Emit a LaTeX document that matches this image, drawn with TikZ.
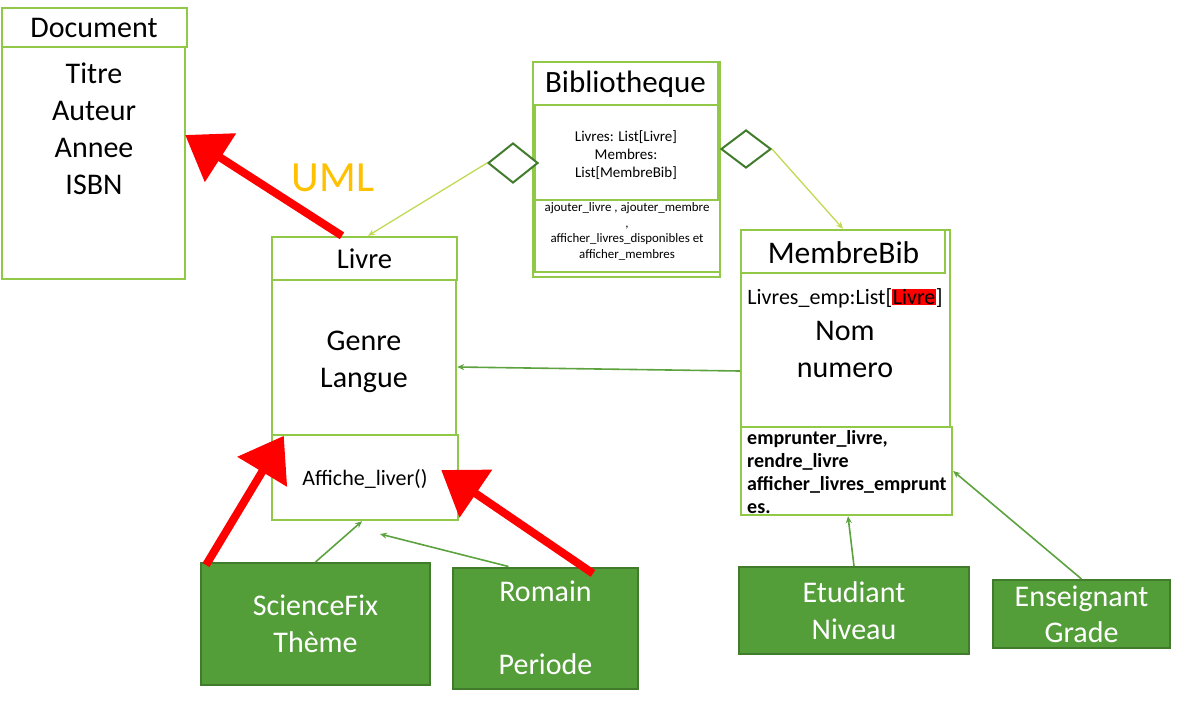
\documentclass[tikz,border=0pt]{standalone}
\usepackage{fontspec}
\setmainfont{Carlito}
\usetikzlibrary{arrows.meta,shapes.geometric}
\definecolor{boxline}{RGB}{146,200,72}
\definecolor{boxfill}{RGB}{84,158,58}
\definecolor{boxdark}{RGB}{64,124,44}
\definecolor{linkgreen}{RGB}{92,162,62}
\definecolor{agglink}{RGB}{192,218,84}
\definecolor{umlorange}{RGB}{255,192,0}
\begin{document}
\begin{tikzpicture}[x=1pt,y=-1pt]
\tikzstyle{cls}= [rectangle,draw=boxline,line width=2.4pt,inner sep=0pt]
\tikzstyle{sub}= [rectangle,draw=boxdark,line width=2pt,fill=boxfill,inner sep=0pt,text=white,align=center,font=\fontsize{30}{36.5}\selectfont]
\tikzstyle{big}= [align=center,font=\fontsize{30}{37}\selectfont]
\tikzstyle{agg}= [diamond,draw=boxdark,line width=2pt,inner sep=0pt,fill=white]
\tikzstyle{inh}= [-{Triangle[length=42pt,width=56pt]},line width=8pt,red]
\tikzstyle{dep}= [-{Stealth[length=7pt,width=6pt]},line width=1.6pt,linkgreen]
\tikzstyle{has}= [-{Stealth[length=7pt,width=6pt]},line width=1.3pt,agglink]

\useasboundingbox (0,0) rectangle (1180,702);

\path
	(94.5,27.5)  node[cls,minimum width=185pt,minimum height=39pt] (doc-hd) {}
	(93.5,163)   node[cls,minimum width=183pt,minimum height=232pt] (doc-body) {}
	(626.5,169.5) node[cls,minimum width=187pt,minimum height=215pt] (bib-frame) {}
	(625.5,83.5) node[cls,minimum width=185pt,minimum height=43pt] (bib-hd) {}
	(626.5,152.5) node[cls,minimum width=183pt,minimum height=95pt] (bib-body) {}
	(627.5,236)  node[cls,minimum width=185pt,minimum height=72pt] (bib-op) {}
	(364.5,258.5) node[cls,minimum width=185pt,minimum height=43pt] (livre-hd) {}
	(364,357.5)  node[cls,minimum width=184pt,minimum height=155pt] (livre-body) {}
	(365,477.5)  node[cls,minimum width=186pt,minimum height=85pt] (livre-op) {}
	(845.5,328.5) node[cls,minimum width=209pt,minimum height=197pt] (mb-frame) {}
	(843,251.5)  node[cls,minimum width=204pt,minimum height=43pt] (mb-hd) {}
	(846.5,471)  node[cls,minimum width=211pt,minimum height=88pt] (mb-op) {}
;
\path
	(94,28)     node[big] (doc-name) {Document}
	(94,128.5)  node[big] (doc-attr) {Titre\\Auteur\\Annee\\ISBN}
	(625.5,84)  node[big,font=\fontsize{31}{37}\selectfont] (bib-name) {Bibliotheque}
	(626,155)   node[align=center,font=\fontsize{15}{18}\selectfont] (bib-attr) {Livres: List[Livre]\\Membres:\\List[MembreBib]}
	(627,231.5) node[align=center,font=\fontsize{12.9}{15.7}\selectfont] (bib-meth) {ajouter\_livre , ajouter\_membre\\,\\afficher\_livres\_disponibles et\\afficher\_membres}
	(364.5,259) node[big,font=\fontsize{28.6}{37}\selectfont] (livre-name) {Livre}
	(364,361.5) node[big] (livre-attr) {Genre\\Langue}
	(365,479)   node[font=\fontsize{22}{26}\selectfont] (livre-meth) {Affiche\_liver()}
	(843.5,253) node[big,font=\fontsize{31.5}{37}\selectfont] (mb-name) {MembreBib}
	(845,298)   node[font=\fontsize{22}{26}\selectfont,inner sep=0pt] (mb-attr1) {Livres\_emp:List[{\setlength{\fboxsep}{0.5pt}\colorbox{red}{Livre}}]}
	(845,349.5) node[big] (mb-attr2) {Nom\\numero}
	(747,472)   node[anchor=west,inner sep=0pt,align=left,font=\bfseries\fontsize{20}{22.7}\selectfont] (mb-meth) {emprunter\_livre,\\rendre\_livre\\afficher\_livres\_emprunt\\es.}
	(333,178)   node[text=umlorange,font=\fontsize{43}{46}\selectfont] (uml) {UML}
	(513,163)   node[agg,minimum width=50pt,minimum height=40pt] (agg-l) {}
	(746,149)   node[agg,minimum width=50pt,minimum height=38pt] (agg-r) {}
	(315.5,624) node[sub,minimum width=229pt,minimum height=122pt] (sf) {ScienceFix\\Thème}
	(545.5,628) node[sub,minimum width=185pt,minimum height=121pt] (rm) {Romain\\[36.5pt]Periode}
	(854,610.5) node[sub,minimum width=230pt,minimum height=87pt,font=\fontsize{30}{37}\selectfont] (et) {Etudiant\\Niveau}
	(1081.5,614) node[sub,minimum width=177pt,minimum height=68pt,font=\fontsize{30}{36}\selectfont] (en) {Enseignant\\Grade}
;
\coordinate (rm-end) at (380,534);

\draw[has] (agg-l.west) -- ([xshift=3.5pt]livre-hd.north);
\draw[has] (agg-r.east) -- (mb-hd.north);
\draw[dep] ([yshift=-42.5pt]mb-frame.west) -- ([yshift=-9.5pt]livre-body.east);
\draw[dep] (sf.north) -- ([xshift=-3pt]livre-op.south);
\draw[dep] ([xshift=-37pt]rm.north) -- (rm-end);
\draw[dep] (et.north) -- ([xshift=1.5pt]mb-op.south);
\draw[dep] (en.north) -- (mb-op.east);
\draw[inh] ([xshift=-22.5pt]livre-hd.north) -- ([xshift=-1pt,yshift=28pt]doc-body.east);
\draw[inh] ([xshift=6pt,yshift=-3pt]sf.north west) -- ([xshift=13pt,yshift=-2pt]livre-op.north west);
\draw[inh] ([xshift=-46pt,yshift=-7pt]rm.north east) -- ([xshift=-18pt,yshift=7.5pt]livre-op.east);
\end{tikzpicture}
\end{document}
